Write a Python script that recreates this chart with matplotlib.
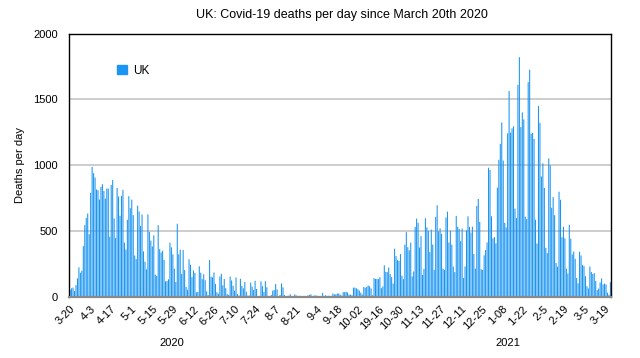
import matplotlib
matplotlib.use("Agg")
import matplotlib.pyplot as plt
from matplotlib.patches import Patch
import numpy as np

# Daily UK Covid-19 deaths (Mar 20 2020 - Mar 23 2021)
deaths_mar_2020 = [53, 66, 71, 45, 90, 141, 225, 184, 200, 386, 545, 601]
deaths_apr_2020 = [634, 477, 790, 987, 940, 906, 816, 810, 740, 836, 856, 805, 747, 823, 823,
                   457, 850, 888, 596, 449, 828, 763, 616, 768, 813, 413, 360, 586, 765, 674]
deaths_may_2020 = [739, 621, 315, 288, 693, 649, 539, 626, 346, 268, 210, 627, 494, 428, 384,
                   468, 170, 160, 545, 363, 338, 351, 282, 118, 121, 134, 412, 377, 324, 215, 113]
deaths_jun_2020 = [556, 324, 359, 176, 357, 204, 77, 55, 286, 245, 151, 202, 181, 36, 38,
                   233, 184, 135, 173, 128, 43, 15, 280, 154, 149, 186, 100, 36, 25, 155]
deaths_jul_2020 = [176, 89, 137, 67, 22, 16, 155, 126, 85, 48, 148, 21, 11, 138, 85,
                   66, 114, 40, 11, 11, 110, 79, 53, 123, 61, 7, 7, 119, 83, 38, 120]
deaths_aug_2020 = [74, 8, 5, 15, 48, 53, 98, 58, 5, 15, 103, 73, 15, 5, 5,
                   10, 20, 8, 5, 20, 12, 8, 8, 8, 4, 6, 8, 3, 12, 16, 20]
deaths_sep_2020 = [3, 10, 12, 10, 8, 2, 3, 32, 8, 14, 6, 9, 5, 9, 27,
                   20, 21, 27, 27, 18, 11, 37, 37, 40, 34, 17, 18, 13, 71, 71]
deaths_oct_2020 = [66, 59, 49, 33, 19, 76, 70, 77, 87, 81, 65, 13, 143, 137, 138,
                   136, 150, 67, 80, 241, 191, 189, 224, 174, 151, 102, 367, 310, 280, 274, 326]
deaths_nov_2020 = [162, 136, 397, 492, 378, 355, 413, 156, 194, 532, 595, 563, 376, 462, 168,
                   213, 598, 529, 501, 341, 511, 398, 206, 608, 696, 498, 521, 479, 215, 205]
deaths_dec_2020 = [603, 648, 414, 504, 397, 231, 189, 616, 533, 516, 424, 519, 144, 232, 506,
                   612, 532, 489, 534, 326, 215, 691, 744, 570, 210, 205, 316, 357, 414, 981, 964]
deaths_jan_2021 = [613, 445, 454, 407, 830, 1041, 1162, 1325, 1035, 563, 529, 1243, 1564, 1248, 1280,
                   1295, 671, 599, 1610, 1820, 1290, 1401, 1348, 610, 592, 1631, 1725, 1239, 1245, 1200, 587]
deaths_feb_2021 = [406, 1449, 1322, 915, 1014, 828, 373, 333, 1052, 1001, 678, 758, 621, 258,
                   230, 799, 738, 454, 533, 445, 215, 178, 548, 442, 323, 345, 290, 144]
deaths_mar_2021 = [104, 343, 315, 242, 236, 158, 82, 65, 231, 190, 175, 181, 121, 52, 64,
                   110, 141, 95, 101, 96, 33, 17, 112]

tick_labels = ["3-20", "4-3", "4-17", "5-1", "5-15", "5-29", "6-12", "6-26", "7-10", "7-24",
               "8-7", "8-21", "9-4", "9-18", "10-02", "19-16", "10-30", "11-13", "11-27",
               "12-11", "12-25", "1-08", "1-22", "2-5", "2-19", "3-5", "3-19"]
year_labels = ["2020", "2021"]
series_name = "UK"

deaths = np.concatenate([deaths_mar_2020, deaths_apr_2020, deaths_may_2020, deaths_jun_2020,
                         deaths_jul_2020, deaths_aug_2020, deaths_sep_2020, deaths_oct_2020,
                         deaths_nov_2020, deaths_dec_2020, deaths_jan_2021, deaths_feb_2021,
                         deaths_mar_2021])
x = np.arange(len(deaths))

plt.rcParams['font.family'] = ['Liberation Sans', 'DejaVu Sans']
BLUE = '#1b95f2'

fig = plt.figure(figsize=(6.4, 3.58), dpi=100)
ax = fig.add_axes([69 / 640, 1 - 297 / 358, 542 / 640, (297 - 33.5) / 358])

bars = ax.bar(x, deaths, width=0.72, color=BLUE, linewidth=0, zorder=2)
for b in bars:
    b.set_snap(False)

ax.set_xlim(-0.75, len(deaths) - 0.6)
ax.set_ylim(0, 2000)
ax.set_yticks([0, 500, 1000, 1500, 2000])
ax.yaxis.grid(True, color='#c9c9c9', linewidth=1.3)
ax.set_axisbelow(True)
ax.tick_params(axis='y', length=0, pad=8, labelsize=8)

tick_pos = np.arange(0, 14 * len(tick_labels), 14)
ax.set_xticks(tick_pos)
ax.set_xticklabels(tick_labels, rotation=45, ha='right', rotation_mode='anchor', fontsize=8)
ax.tick_params(axis='x', length=0, pad=5)

for s in ['left', 'top', 'right']:
    ax.spines[s].set_color('black')
    ax.spines[s].set_linewidth(1.0)
ax.spines['bottom'].set_color('#8a8a8a')
ax.spines['bottom'].set_linewidth(1.6)

ax.legend(handles=[Patch(color=BLUE, label=series_name)], loc='upper left',
          bbox_to_anchor=(0.08, 0.9), frameon=False, handlelength=0.8, handleheight=0.8,
          handletextpad=0.6, fontsize=8.5, borderaxespad=0)

fig.text(342 / 640, 1 - 15 / 358, "UK: Covid-19 deaths per day since March 20th 2020",
         ha='center', va='center', fontsize=9)
fig.text(20 / 640, 1 - 165 / 358, "Deaths per day", rotation=90, ha='center', va='center',
         fontsize=8)
fig.text(172 / 640, 1 - 343 / 358, year_labels[0], ha='center', va='center', fontsize=8)
fig.text(508 / 640, 1 - 343 / 358, year_labels[1], ha='center', va='center', fontsize=8)

fig.savefig("out.png", dpi=100)
